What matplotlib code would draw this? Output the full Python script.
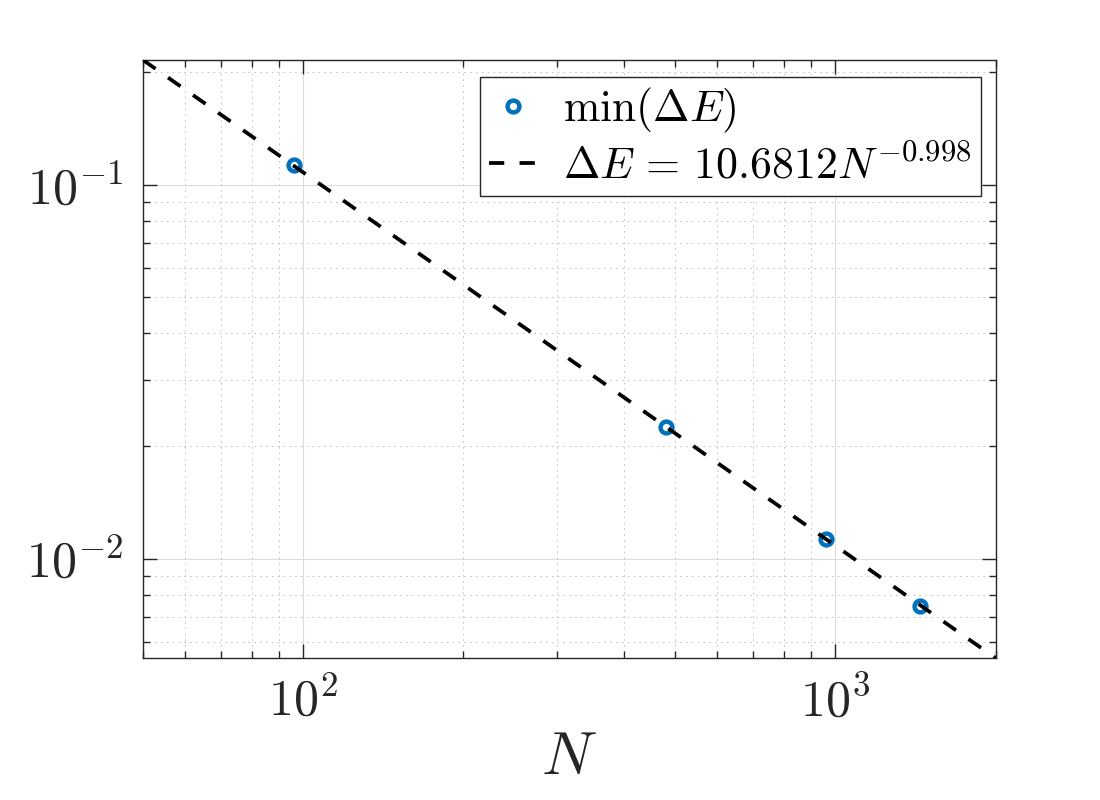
import numpy as np
import matplotlib
matplotlib.use("Agg")
import matplotlib.pyplot as plt
from matplotlib.ticker import LogLocator, NullFormatter, FuncFormatter

plt.rcParams['mathtext.fontset'] = 'cm'
plt.rcParams['font.family'] = ['DejaVu Serif']
plt.rcParams['lines.scale_dashes'] = False

# data
N_vals = [96, 480, 960, 1440]
dE_vals = [0.1127, 0.02249, 0.01128, 0.00748]
fit_a = 10.6812
fit_b = -0.998
x_limits = [50, 2000]
legend_labels = [r'$\min(\Delta E)$', r'$\Delta E\,=\,10.6812N^{-0.998}$']

fig = plt.figure(figsize=(11, 8), dpi=100)
ax = fig.add_axes([0.13, 0.1775, 0.775, 0.7475])

xf = np.array(x_limits, dtype=float)
yf = fit_a * xf ** fit_b

ax.loglog(N_vals, dE_vals, linestyle='none', marker='o', markersize=8.5,
          markerfacecolor='none', markeredgecolor='#0072BD', markeredgewidth=3.2,
          label=legend_labels[0], zorder=3)
ax.loglog(xf, yf, color='black', linewidth=2.7, linestyle=(0, (11, 11)),
          dash_capstyle='butt', label=legend_labels[1], zorder=4)

ax.set_xlim(x_limits)
ax.set_ylim(yf[1], yf[0])

def pow_fmt(v, pos):
    e = int(round(np.log10(v)))
    return r'$10^{%d}$' % e

ax.xaxis.set_major_locator(LogLocator(base=10, numticks=10))
ax.xaxis.set_minor_locator(LogLocator(base=10, subs=np.arange(2, 10), numticks=20))
ax.yaxis.set_minor_locator(LogLocator(base=10, subs=np.arange(2, 10), numticks=20))
ax.xaxis.set_major_formatter(FuncFormatter(pow_fmt))
ax.yaxis.set_major_formatter(FuncFormatter(pow_fmt))
ax.xaxis.set_minor_formatter(NullFormatter())
ax.yaxis.set_minor_formatter(NullFormatter())

ax.grid(True, which='major', color='#dcdcdc', linestyle='-', linewidth=0.8)
ax.grid(True, which='minor', color='#c4c4c4', linestyle=(0, (1.2, 3)), linewidth=0.7)
ax.set_axisbelow(True)

ax.tick_params(which='both', direction='in', top=True, right=True,
               colors='#262626', width=1.0)
ax.tick_params(which='major', length=10, labelsize=36, pad=14)
ax.tick_params(which='minor', length=5)
for s in ax.spines.values():
    s.set_color('#262626')
    s.set_linewidth(1.0)

ax.set_xlabel(r'$N$', fontsize=44, color='#262626', labelpad=0)

leg = ax.legend(loc='upper right', bbox_to_anchor=(0.8915, 0.904),
                bbox_transform=fig.transFigure, borderaxespad=0,
                fontsize=31.5, handlelength=1.1, handletextpad=0.6,
                borderpad=0.2, labelspacing=0.22, fancybox=False,
                framealpha=1, edgecolor='#262626')
leg.get_frame().set_linewidth(1.0)

fig.savefig('out.png', dpi=100)
